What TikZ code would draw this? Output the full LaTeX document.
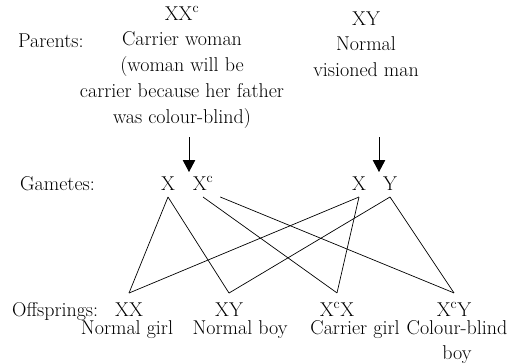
\documentclass[tikz,border=0pt]{standalone}
\usetikzlibrary{arrows.meta}

\begin{document}
\begin{tikzpicture}[x=1pt, y=-1pt,
  every node/.style={font=\fontsize{20}{25.7}\selectfont, inner sep=0pt},
  gamete/.style={anchor=base, outer sep=7pt},
  geno/.style={anchor=base, outer sep=9.3pt},
  pheno/.style={anchor=north, align=center, font=\fontsize{20}{25}\selectfont},
  cross/.style={line width=0.7pt},
  arr/.style={line width=0.9pt, -{Triangle[length=12pt,width=12.5pt]}}]

\useasboundingbox (0,0) rectangle (517,364);

\node[anchor=base west] (parents) at (18,47) {Parents:};
\node[anchor=north, align=center] (woman) at (182,6.3) {XX\textsuperscript{c}\\Carrier woman\\(woman will be\\carrier because her father\\was colour-blind)};
\node[anchor=north, align=center] (man) at (366,11.3) {XY\\Normal\\visioned man};

\coordinate (wtop) at (189,137);
\coordinate (wtip) at (189,172);
\coordinate (mtop) at (379,137);
\coordinate (mtip) at (379,172);
\draw[arr] (wtop) -- (wtip);
\draw[arr] (mtop) -- (mtip);

\node[anchor=base west] (gametes) at (20,190) {Gametes:};
\node[gamete] (gX1) at (168,190) {X};
\node[gamete] (gXc) at (203,190) {X\textsuperscript{c}};
\node[gamete] (gX2) at (359,190) {X};
\node[gamete] (gY) at (390,190) {Y};

\node[anchor=base west] (offsprings) at (12,316) {Offsprings:};
\node[geno] (oXX) at (129,316) {XX};
\node[geno] (oXY) at (229,316) {XY};
\node[geno] (oXcX) at (337,316) {X\textsuperscript{c}X};
\node[geno] (oXcY) at (454,316) {X\textsuperscript{c}Y};

\node[pheno] (pGirl) at (127,320) {Normal girl};
\node[pheno] (pBoy) at (240,320) {Normal boy};
\node[pheno] (pCarrier) at (355,320) {Carrier girl};
\node[pheno] (pBlind) at (457,320) {Colour-blind\\boy};

\draw[cross] (gX1.south) -- (oXX.north);
\draw[cross] (gX1.south) -- (oXY.north);
\draw[cross] (gXc.south) -- (oXcX.north);
\draw[cross] (gXc.south east) -- (oXcY.north);
\draw[cross] (gX2.south) -- (oXX.north);
\draw[cross] (gX2.south) -- (oXcX.north);
\draw[cross] (gY.south) -- (oXY.north);
\draw[cross] (gY.south) -- (oXcY.north);

\end{tikzpicture}
\end{document}
